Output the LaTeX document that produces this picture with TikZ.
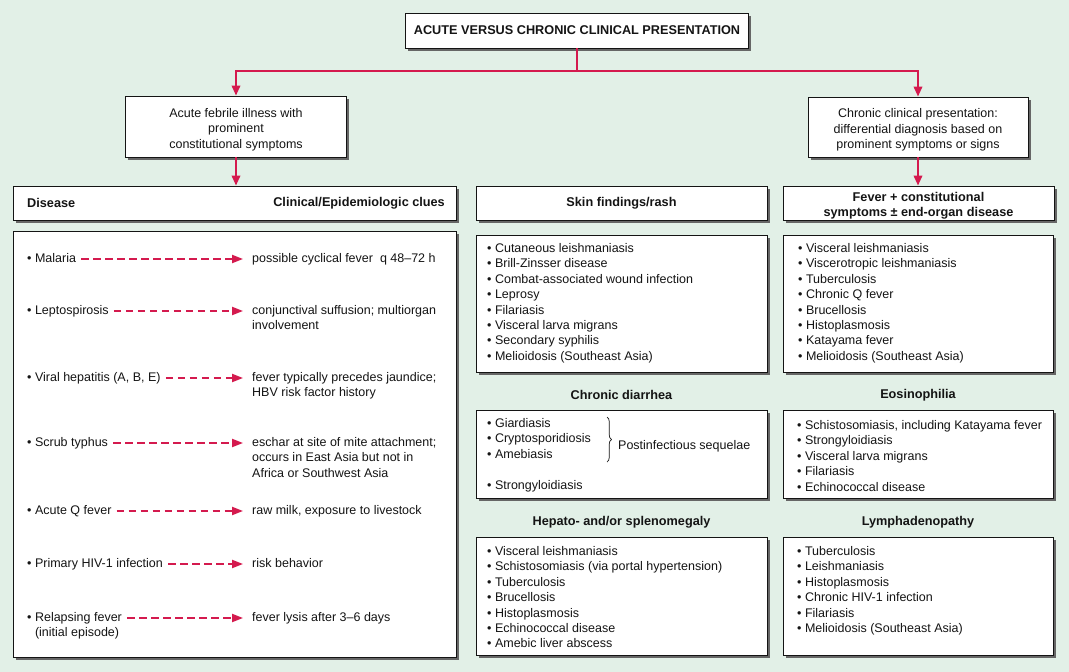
\documentclass[tikz,border=0pt]{standalone}
\usepackage{fontspec}
\setmainfont{Liberation Sans}
\usetikzlibrary{shadows,arrows.meta,decorations.pathreplacing}
\definecolor{bg}{RGB}{226,240,231}
\definecolor{rd}{RGB}{212,26,78}
\definecolor{ink}{RGB}{20,20,20}
\newcommand{\ml}[1]{\begin{tabular}[t]{@{}l@{}}#1\end{tabular}}
\newcommand{\bl}{\textbullet\ }
\begin{document}
\begin{tikzpicture}[x=1pt,y=-1pt,
  font=\fontsize{12.5}{15.4}\selectfont, text=ink,
  box/.style={draw=ink, line width=0.9pt, fill=white, inner sep=0pt,
    drop shadow={shadow xshift=2.5pt,shadow yshift=-2.5pt,fill=black!60,opacity=1}},
  hd/.style={font=\fontsize{12.7}{15.4}\selectfont\bfseries},
  txt/.style={inner sep=0pt, anchor=base west},
  link/.style={draw=rd, line width=2pt},
  tip/.style={-{Triangle[length=10pt,width=8.5pt]}},
  dasharrow/.style={draw=rd, line width=2pt, dash pattern=on 7.5pt off 4.5pt,
    -{Triangle[length=11pt,width=8pt]}, shorten <=5pt, shorten >=9pt}]
\fill[bg] (0,0) rectangle (1069,672);
\useasboundingbox (0,0) rectangle (1069,672);

% top level
\node[box, hd, minimum width=343pt, minimum height=35pt] (title) at (577,30.5) {ACUTE VERSUS CHRONIC CLINICAL PRESENTATION};
\node[box, minimum width=221pt, minimum height=61pt] (acute) at (236,126.5) {};
\node[align=center, inner sep=0pt] (acutet) at ([yshift=-3pt]acute.center) {Acute febrile illness with\\prominent\\constitutional symptoms};
\node[box, minimum width=220pt, minimum height=60pt] (chronic) at (918,127) {};
\node[align=center, inner sep=0pt] (chronict) at ([yshift=-3pt]chronic.center) {Chronic clinical presentation:\\differential diagnosis based on\\prominent symptoms or signs};

% headers
\node[box, minimum width=443pt, minimum height=34pt] (dh) at (234.5,203) {};
\node[hd, inner sep=0pt, anchor=west] (dhl) at (27,203) {Disease};
\node[hd, inner sep=0pt, anchor=east] (dhr) at (445,203) {Clinical/Epidemiologic clues};
\node[box, hd, minimum width=291pt, minimum height=34pt] (sh) at (621.5,203) {Skin findings/rash};
\node[box, minimum width=271pt, minimum height=34pt] (fh) at (918.5,203) {};
\node[hd, align=center, inner sep=0pt] (fht) at ([yshift=-2.5pt]fh.center) {Fever + constitutional\\symptoms ± end-organ disease};

% connectors
\coordinate (j) at (title.south |- 0,71);
\draw[link] (title.south) -- (j);
\draw[link,tip] (j) -| (acute.north);
\draw[link,tip] (j) -| (chronic.north);
\draw[link,tip] (acute.south) -- (acute.south |- dh.north);
\draw[link,tip] (chronic.south) -- (chronic.south |- fh.north);

% left list
\node[box, minimum width=443pt, minimum height=426pt] (lbox) at (234.5,444) {};
\node[txt] (d1) at (27,262.5) {\bl Malaria};
\node[txt] (c1) at (252,262.5) {possible cyclical fever \ q 48–72 h};
\node[txt] (d2) at (27,314.5) {\bl Leptospirosis};
\node[txt] (c2) at (252,314.5) {\ml{conjunctival suffusion; multiorgan\\involvement}};
\node[txt] (d3) at (27,381.5) {\bl Viral hepatitis (A, B, E)};
\node[txt] (c3) at (252,381.5) {\ml{fever typically precedes jaundice;\\HBV risk factor history}};
\node[txt] (d4) at (27,446.5) {\bl Scrub typhus};
\node[txt] (c4) at (252,446.5) {\ml{eschar at site of mite attachment;\\occurs in East Asia but not in\\Africa or Southwest Asia}};
\node[txt] (d5) at (27,514.5) {\bl Acute Q fever};
\node[txt] (c5) at (252,514.5) {raw milk, exposure to livestock};
\node[txt] (d6) at (27,567.5) {\bl Primary HIV-1 infection};
\node[txt] (c6) at (252,567.5) {risk behavior};
\node[txt] (d7) at (27,621.5) {\ml{\bl Relapsing fever\\\phantom{\bl}(initial episode)}};
\node[txt] (c7) at (252,621.5) {fever lysis after 3–6 days};
\foreach \i in {1,...,7}{
  \draw[dasharrow] ([yshift=3.5pt]d\i.base east) -- ([yshift=3.5pt]d\i.base east -| c\i.west);
}

% skin
\node[box, minimum width=291pt, minimum height=137pt] (skin) at (621.5,303.5) {};
\node[txt] (skinl) at (487,252.5) {\ml{\bl Cutaneous leishmaniasis\\\bl Brill-Zinsser disease\\\bl Combat-associated wound infection\\\bl Leprosy\\\bl Filariasis\\\bl Visceral larva migrans\\\bl Secondary syphilis\\\bl Melioidosis (Southeast Asia)}};

% fever
\node[box, minimum width=270pt, minimum height=137pt] (fev) at (918,303.5) {};
\node[txt] (fevl) at (798,252.5) {\ml{\bl Visceral leishmaniasis\\\bl Viscerotropic leishmaniasis\\\bl Tuberculosis\\\bl Chronic Q fever\\\bl Brucellosis\\\bl Histoplasmosis\\\bl Katayama fever\\\bl Melioidosis (Southeast Asia)}};

% chronic diarrhea
\node[hd] (hdia) at (621.5,395) {Chronic diarrhea};
\node[box, minimum width=291pt, minimum height=88pt] (dia) at (621.5,454) {};
\node[txt] (dial) at (487,427.5) {\ml{\bl Giardiasis\\\bl Cryptosporidiosis\\\bl Amebiasis\\\\\bl Strongyloidiasis}};
\draw[ink, line width=0.7pt, decorate, decoration={brace, amplitude=4.5pt}] (607,417) -- (607,462);
\node[txt] (post) at (618,449.5) {Postinfectious sequelae};

% eosinophilia
\node[hd] (heos) at (918,395) {Eosinophilia};
\node[box, minimum width=270pt, minimum height=88pt] (eos) at (918,454) {};
\node[txt] (eosl) at (797,429.5) {\ml{\bl Schistosomiasis, including Katayama fever\\\bl Strongyloidiasis\\\bl Visceral larva migrans\\\bl Filariasis\\\bl Echinococcal disease}};

% hepato
\node[hd] (hhep) at (621.5,522) {Hepato- and/or splenomegaly};
\node[box, minimum width=291pt, minimum height=118pt] (hep) at (621.5,596) {};
\node[txt] (hepl) at (487,555.5) {\ml{\bl Visceral leishmaniasis\\\bl Schistosomiasis (via portal hypertension)\\\bl Tuberculosis\\\bl Brucellosis\\\bl Histoplasmosis\\\bl Echinococcal disease\\\bl Amebic liver abscess}};

% lymph
\node[hd] (hlym) at (918,522) {Lymphadenopathy};
\node[box, minimum width=270pt, minimum height=118pt] (lym) at (918,596) {};
\node[txt] (lyml) at (797,555.5) {\ml{\bl Tuberculosis\\\bl Leishmaniasis\\\bl Histoplasmosis\\\bl Chronic HIV-1 infection\\\bl Filariasis\\\bl Melioidosis (Southeast Asia)}};
\end{tikzpicture}
\end{document}
